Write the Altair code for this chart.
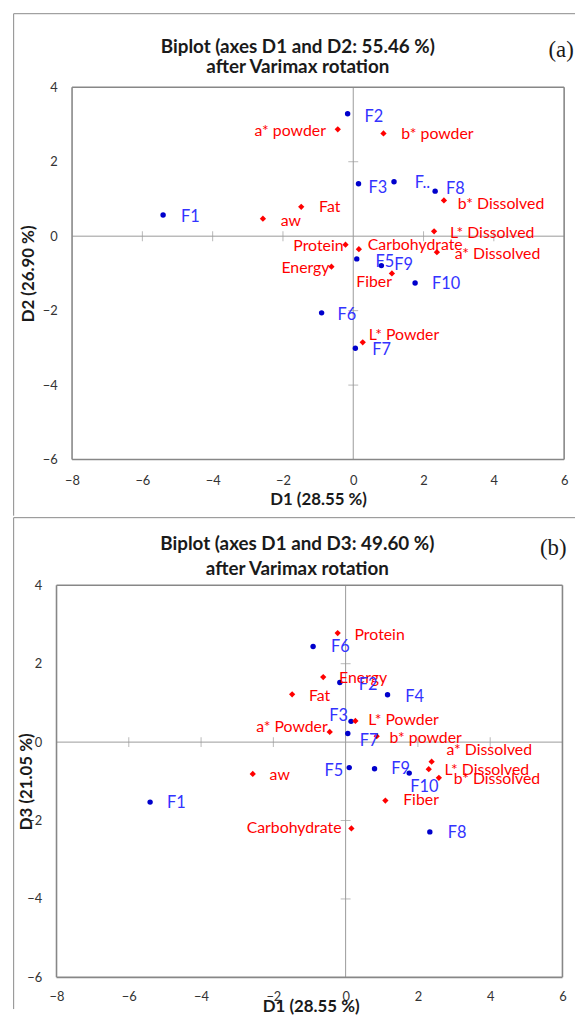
import altair as alt
import pandas as pd

# ---------------- data ----------------
FORMS = ["F1", "F2", "F3", "F4", "F5", "F6", "F7", "F8", "F9", "F10"]
FORMS_D1 = [-5.41, -0.16, 0.15, 1.16, 0.10, -0.90, 0.06, 2.33, 0.80, 1.76]
FORMS_D2 = [0.57, 3.29, 1.41, 1.46, -0.61, -2.06, -3.01, 1.21, -0.79, -1.26]
FORMS_D3 = [-1.53, 1.52, 0.53, 1.21, -0.65, 2.44, 0.22, -2.29, -0.68, -0.79]
FORM_LABELS_A = ["F1", "F2", "F3", "F..", "F5", "F6", "F7", "F8", "F9", "F10"]
FORM_LABELS_B = FORMS

VARS = ["a* powder", "b* powder", "L* Powder", "a* Dissolved", "b* Dissolved",
        "L* Dissolved", "aw", "Fat", "Protein", "Carbohydrate", "Energy", "Fiber"]
VARS_D1 = [-0.44, 0.86, 0.27, 2.38, 2.58, 2.30, -2.57, -1.48, -0.22, 0.16, -0.62, 1.10]
VARS_D2 = [2.87, 2.76, -2.85, -0.43, 0.96, 0.13, 0.47, 0.79, -0.23, -0.35, -0.82, -1.00]
VARS_D3 = [0.26, 0.15, 0.54, -0.50, -0.91, -0.69, -0.81, 1.22, 2.78, -2.20, 1.66, -1.49]
VAR_LABELS_A = VARS
VAR_LABELS_B = ["a* Powder", "b* powder", "L* Powder", "a* Dissolved", "b* Dissolved",
                "L* Dissolved", "aw", "Fat", "Protein", "Carbohydrate", "Energy", "Fiber"]

X_TICKS = [-8, -6, -4, -2, 0, 2, 4, 6]
Y_TICKS = [-6, -4, -2, 0, 2, 4]
X_DOMAIN = [-8, 6]
Y_DOMAIN = [-6, 4]

# ---------------- label placement (layout, px) ----------------
FORM_LAY_A = [("left", 18, 2), ("left", 17, 3), ("left", 10, 4), ("left", 21, 1), ("left", 19, 3),
              ("left", 16, 2), ("left", 17, 2), ("left", 11, -2), ("left", 13, -1), ("left", 17, 1)]
FORM_LAY_B = [("left", 17, 1), ("left", 19, 3), ("right", -3, -5), ("left", 18, 2), ("right", -6, 3),
              ("left", 18, 1), ("left", 12, 8), ("left", 18, 1), ("left", 17, 0), ("left", 1, 14)]
VAR_LAY_A = [("right", -12, 2), ("left", 18, 1), ("left", 6, -7), ("left", 18, 2), ("left", 14, 4),
             ("left", 16, 2), ("left", 18, 2), ("left", 18, 0), ("right", -2, 1), ("left", 9, -4),
             ("right", -2, 1), ("right", 0, 9)]
VAR_LAY_B = [("right", -2, -5), ("left", 13, 2), ("left", 13, -1), ("left", 15, -12), ("left", 15, 1),
             ("left", 16, 1), ("left", 17, 1), ("left", 17, 2), ("left", 17, 2), ("right", -10, 0),
             ("left", 16, 1), ("left", 18, 0)]

FONT = "Lato"
BLUE_PT = "#0000CC"
BLUE_TXT = "#3333FF"
RED = "#FF0000"
FRAME = "#8a8a8a"
BORDER = "#878787"
ZERO = "#9a9a9a"
TXT = "#1a1a1a"
LAB = "#333333"


def build_df(names, labels, xs, ys, lay, pxx, pxy):
    df = pd.DataFrame({
        "name": names, "label": labels, "x": xs, "y": ys,
        "align": [a for a, _, _ in lay],
        "dx": [d for _, d, _ in lay],
        "dy": [d for _, _, d in lay],
    })
    df["lx"] = df["x"] + df["dx"] / pxx
    df["ly"] = df["y"] - df["dy"] / pxy
    return df


def panel(form_y, var_y, form_labels, var_labels, form_lay, var_lay, w, h, xrange,
          ytitle, title1, title2, tag, g):
    xs = alt.Scale(domain=X_DOMAIN, range=xrange, nice=False, zero=False)
    ys = alt.Scale(domain=Y_DOMAIN, nice=False, zero=False)
    pxx = (xrange[1] - xrange[0]) / (X_DOMAIN[1] - X_DOMAIN[0])
    pxy = h / (Y_DOMAIN[1] - Y_DOMAIN[0])
    one = alt.Data(values=[{}])

    fdf = build_df(FORMS, form_labels, FORMS_D1, form_y, form_lay, pxx, pxy)
    vdf = build_df(VARS, var_labels, VARS_D1, var_y, var_lay, pxx, pxy)

    xaxis = alt.Axis(values=X_TICKS, grid=False, domain=False, ticks=False, tickSize=0,
                     labelFont=FONT, labelFontSize=13, labelColor=LAB,
                     labelPadding=g["xlp"], labelBaseline="middle",
                     labelFlush=False, labelOverlap=False,
                     title="D1 (28.55 %)", titleFont=FONT, titleFontSize=17,
                     titleFontWeight="bold", titleColor=TXT,
                     titleX=g["xtx"], titleY=g["xty"], titleBaseline="middle")
    yaxis = alt.Axis(values=Y_TICKS, grid=False, domain=False, ticks=False, tickSize=0,
                     labelFont=FONT, labelFontSize=13, labelColor=LAB,
                     labelPadding=g["ylp"], labelFlush=False, labelOverlap=False,
                     title=ytitle, titleFont=FONT, titleFontSize=17,
                     titleFontWeight="bold", titleColor=TXT,
                     titleX=g["ytx"], titleAngle=270, titleBaseline="middle")

    def X(f):
        return alt.X(f, scale=xs, axis=xaxis)

    def Y(f):
        return alt.Y(f, scale=ys, axis=yaxis)

    # plot border and zero lines, built from the axis domains
    seg = pd.DataFrame({
        "x1": [X_DOMAIN[0], X_DOMAIN[1], X_DOMAIN[0], X_DOMAIN[0]],
        "x2": [X_DOMAIN[0], X_DOMAIN[1], X_DOMAIN[1], X_DOMAIN[1]],
        "y1": [Y_DOMAIN[0], Y_DOMAIN[0], Y_DOMAIN[1], Y_DOMAIN[0]],
        "y2": [Y_DOMAIN[1], Y_DOMAIN[1], Y_DOMAIN[1], Y_DOMAIN[0]],
    })
    zseg = pd.DataFrame({"x1": [X_DOMAIN[0], 0], "x2": [X_DOMAIN[1], 0],
                         "y1": [0, Y_DOMAIN[0]], "y2": [0, Y_DOMAIN[1]]})
    zlines = alt.Chart(zseg).mark_rule(color=ZERO, strokeWidth=1).encode(
        x=X("x1:Q"), x2="x2:Q", y=Y("y1:Q"), y2="y2:Q")
    border = alt.Chart(seg).mark_rule(color=BORDER, strokeWidth=1.6).encode(
        x=X("x1:Q"), x2="x2:Q", y=Y("y1:Q"), y2="y2:Q")

    xt_df = pd.DataFrame({"v": [v for v in X_TICKS if v not in (0, X_DOMAIN[0], X_DOMAIN[1])], "z": 0})
    yt_df = pd.DataFrame({"v": [v for v in Y_TICKS if v not in (0, Y_DOMAIN[0], Y_DOMAIN[1])], "z": 0})
    xticks = alt.Chart(xt_df).mark_tick(orient="vertical", size=10, thickness=1, color=ZERO).encode(
        x=X("v:Q"), y=Y("z:Q"))
    yticks = alt.Chart(yt_df).mark_tick(orient="horizontal", size=10, thickness=1, color=ZERO).encode(
        y=Y("v:Q"), x=X("z:Q"))

    fpts = alt.Chart(fdf).mark_circle(size=30, color=BLUE_PT, opacity=1).encode(
        x=X("x:Q"), y=Y("y:Q"))
    vpts = alt.Chart(vdf).mark_point(shape="diamond", filled=True, size=40, color=RED, opacity=1).encode(
        x=X("x:Q"), y=Y("y:Q"))

    layers = [zlines, xticks, yticks, border, fpts, vpts]
    for df, col, fs in ((vdf, RED, 16), (fdf, BLUE_TXT, 16.5)):
        for al in ("left", "right"):
            sub = df[df["align"] == al]
            if len(sub) == 0:
                continue
            layers.append(
                alt.Chart(sub).mark_text(align=al, baseline="middle", font=FONT,
                                         fontSize=fs, color=col).encode(
                    x=X("lx:Q"), y=Y("ly:Q"), text="label:N"))

    # frame lines of the figure
    fl, ft, fr, fb = g["frame"]
    layers.append(alt.Chart(one).mark_rule(color=FRAME, strokeWidth=1).encode(
        x=alt.value(fl), x2=alt.value(fr), y=alt.value(ft)))
    layers.append(alt.Chart(one).mark_rule(color=FRAME, strokeWidth=1).encode(
        x=alt.value(fl), y=alt.value(ft), y2=alt.value(fb)))

    # titles
    for txt, (tx, ty) in ((title1, g["t1"]), (title2, g["t2"])):
        layers.append(alt.Chart(one).mark_text(text=txt, font=FONT, fontSize=19, fontWeight="bold",
                                               color=TXT, align="center", baseline="middle").encode(
            x=alt.value(tx), y=alt.value(ty)))
    layers.append(alt.Chart(one).mark_text(text=tag, font="Liberation Serif", fontSize=23,
                                           color=TXT, align="center", baseline="middle").encode(
        x=alt.value(g["tag"][0]), y=alt.value(g["tag"][1])))

    return alt.layer(*layers).properties(width=w, height=h)


# both panels share a group origin at page x = 71.7; the lower panel's plot starts 15.7 px further left
geom_a = {"xlp": 21, "xtx": 248.5, "xty": 40, "ylp": 15, "ytx": -44,
          "frame": (-59, -74.3, 508, 432.7),
          "t1": (228, -41), "t2": (228, -20), "tag": (494, -38)}
geom_b = {"xlp": 19.5, "xtx": 241, "xty": 29.5, "ylp": 30.7, "ytx": -46,
          "frame": (-59, -68.3, 508, 428),
          "t1": (227.5, -42), "t2": (227.5, -16), "tag": (486, -38)}

top = panel(FORMS_D2, VARS_D2, FORM_LABELS_A, VAR_LABELS_A, FORM_LAY_A, VAR_LAY_A,
            497, 376, [0, 497],
            "D2 (26.90 %)", "Biplot (axes D1 and D2: 55.46 %)", "after Varimax rotation", "(a)", geom_a)
bottom = panel(FORMS_D3, VARS_D3, FORM_LABELS_B, VAR_LABELS_B, FORM_LAY_B, VAR_LAY_B,
               495.3, 396, [-15.7, 495.3],
               "D3 (21.05 %)", "Biplot (axes D1 and D3: 49.60 %)", "after Varimax rotation", "(b)", geom_b)

chart = alt.vconcat(top, bottom, spacing=0).properties(
    padding={"left": 4.7, "top": 0, "right": 0, "bottom": 0}
).configure_view(strokeOpacity=0)

chart.save("out.html", embed_options={"renderer": "svg", "actions": False})
